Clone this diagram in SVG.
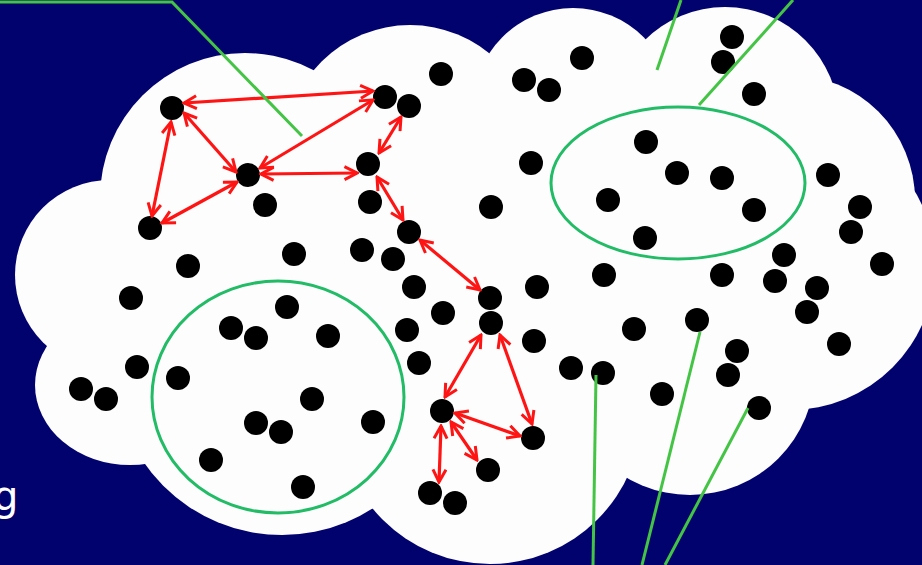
<svg xmlns="http://www.w3.org/2000/svg" width="922" height="565" viewBox="0 0 922 565">
<style>
.cl{fill:#fdfdfd}
.dot{fill:#000}
.arr{fill:none;stroke:#ff1414;stroke-width:3.2;marker-start:url(#ah);marker-end:url(#ah)}
.gl{fill:none;stroke:#44c444;stroke-width:3}
.ge{fill:none;stroke:#22bb66;stroke-width:3}
</style>
<defs>
<marker id="ah" viewBox="0 0 16 16" refX="14" refY="8" markerWidth="16" markerHeight="16" orient="auto-start-reverse" markerUnits="userSpaceOnUse">
<path d="M1.5,1.5 L14,8 L1.5,14.5" fill="none" stroke="#ff1414" stroke-width="3"/>
</marker>
</defs>
<rect width="922" height="565" fill="#02026f"/>
<g id="cloud">
<circle class="cl" cx="245" cy="198" r="145"/>
<circle class="cl" cx="410" cy="150" r="125"/>
<circle class="cl" cx="573" cy="108" r="100"/>
<circle class="cl" cx="725" cy="121" r="114"/>
<circle class="cl" cx="790" cy="200" r="125"/>
<polygon class="cl" points="245,198 410,150 573,108 725,121 790,200 790,265 690,370 490,410 282,367 130,385 110,275"/>
<circle class="cl" cx="110" cy="275" r="95"/>
<ellipse class="cl" cx="130" cy="385" rx="95" ry="80"/>
<circle class="cl" cx="282" cy="367" r="168"/>
<circle class="cl" cx="490" cy="412" r="152"/>
<circle class="cl" cx="690" cy="370" r="125"/>
<circle class="cl" cx="790" cy="265" r="145"/>
</g>
<text x="-7" y="510" font-family="DejaVu Sans, Verdana, sans-serif" font-size="40" fill="#ffffff">g</text>
<g id="regions">
<ellipse class="ge" cx="278" cy="397" rx="126" ry="116"/>
<ellipse class="ge" cx="678" cy="183" rx="127" ry="76"/>
</g>
<g id="nodes">
<g id="n1"><circle class="dot" cx="172" cy="108" r="12"/></g>
<g id="n2"><circle class="dot" cx="385" cy="97" r="12"/></g>
<g id="n3"><circle class="dot" cx="409" cy="106" r="12"/></g>
<g id="n4"><circle class="dot" cx="441" cy="74" r="12"/></g>
<g id="n5"><circle class="dot" cx="248" cy="175" r="12"/></g>
<g id="n6"><circle class="dot" cx="265" cy="205" r="12"/></g>
<g id="n7"><circle class="dot" cx="368" cy="164" r="12"/></g>
<g id="n8"><circle class="dot" cx="370" cy="202" r="12"/></g>
<g id="n9"><circle class="dot" cx="150" cy="228" r="12"/></g>
<g id="n10"><circle class="dot" cx="188" cy="266" r="12"/></g>
<g id="n11"><circle class="dot" cx="294" cy="254" r="12"/></g>
<g id="n12"><circle class="dot" cx="362" cy="250" r="12"/></g>
<g id="n13"><circle class="dot" cx="393" cy="259" r="12"/></g>
<g id="n14"><circle class="dot" cx="409" cy="232" r="12"/></g>
<g id="n15"><circle class="dot" cx="131" cy="298" r="12"/></g>
<g id="n16"><circle class="dot" cx="414" cy="287" r="12"/></g>
<g id="n17"><circle class="dot" cx="443" cy="313" r="12"/></g>
<g id="n18"><circle class="dot" cx="490" cy="298" r="12"/></g>
<g id="n19"><circle class="dot" cx="491" cy="323" r="12"/></g>
<g id="n20"><circle class="dot" cx="407" cy="330" r="12"/></g>
<g id="n21"><circle class="dot" cx="419" cy="363" r="12"/></g>
<g id="n22"><circle class="dot" cx="491" cy="207" r="12"/></g>
<g id="n23"><circle class="dot" cx="531" cy="163" r="12"/></g>
<g id="n24"><circle class="dot" cx="524" cy="80" r="12"/></g>
<g id="n25"><circle class="dot" cx="549" cy="90" r="12"/></g>
<g id="n26"><circle class="dot" cx="582" cy="58" r="12"/></g>
<g id="n27"><circle class="dot" cx="732" cy="37" r="12"/></g>
<g id="n28"><circle class="dot" cx="723" cy="62" r="12"/></g>
<g id="n29"><circle class="dot" cx="754" cy="94" r="12"/></g>
<g id="n30"><circle class="dot" cx="646" cy="142" r="12"/></g>
<g id="n31"><circle class="dot" cx="677" cy="173" r="12"/></g>
<g id="n32"><circle class="dot" cx="722" cy="178" r="12"/></g>
<g id="n33"><circle class="dot" cx="608" cy="200" r="12"/></g>
<g id="n34"><circle class="dot" cx="754" cy="210" r="12"/></g>
<g id="n35"><circle class="dot" cx="645" cy="238" r="12"/></g>
<g id="n36"><circle class="dot" cx="828" cy="175" r="12"/></g>
<g id="n37"><circle class="dot" cx="860" cy="207" r="12"/></g>
<g id="n38"><circle class="dot" cx="851" cy="232" r="12"/></g>
<g id="n39"><circle class="dot" cx="784" cy="255" r="12"/></g>
<g id="n40"><circle class="dot" cx="882" cy="264" r="12"/></g>
<g id="n41"><circle class="dot" cx="722" cy="275" r="12"/></g>
<g id="n42"><circle class="dot" cx="775" cy="281" r="12"/></g>
<g id="n43"><circle class="dot" cx="817" cy="288" r="12"/></g>
<g id="n44"><circle class="dot" cx="807" cy="312" r="12"/></g>
<g id="n45"><circle class="dot" cx="839" cy="344" r="12"/></g>
<g id="n46"><circle class="dot" cx="604" cy="275" r="12"/></g>
<g id="n47"><circle class="dot" cx="537" cy="287" r="12"/></g>
<g id="n48"><circle class="dot" cx="534" cy="341" r="12"/></g>
<g id="n49"><circle class="dot" cx="634" cy="329" r="12"/></g>
<g id="n50"><circle class="dot" cx="697" cy="320" r="12"/></g>
<g id="n51"><circle class="dot" cx="737" cy="351" r="12"/></g>
<g id="n52"><circle class="dot" cx="728" cy="375" r="12"/></g>
<g id="n53"><circle class="dot" cx="571" cy="368" r="12"/></g>
<g id="n54"><circle class="dot" cx="603" cy="373" r="12"/></g>
<g id="n55"><circle class="dot" cx="662" cy="394" r="12"/></g>
<g id="n56"><circle class="dot" cx="759" cy="408" r="12"/></g>
<g id="n57"><circle class="dot" cx="231" cy="328" r="12"/></g>
<g id="n58"><circle class="dot" cx="256" cy="338" r="12"/></g>
<g id="n59"><circle class="dot" cx="287" cy="307" r="12"/></g>
<g id="n60"><circle class="dot" cx="328" cy="336" r="12"/></g>
<g id="n61"><circle class="dot" cx="137" cy="367" r="12"/></g>
<g id="n62"><circle class="dot" cx="178" cy="378" r="12"/></g>
<g id="n63"><circle class="dot" cx="81" cy="389" r="12"/></g>
<g id="n64"><circle class="dot" cx="106" cy="399" r="12"/></g>
<g id="n65"><circle class="dot" cx="312" cy="399" r="12"/></g>
<g id="n66"><circle class="dot" cx="256" cy="423" r="12"/></g>
<g id="n67"><circle class="dot" cx="281" cy="432" r="12"/></g>
<g id="n68"><circle class="dot" cx="373" cy="422" r="12"/></g>
<g id="n69"><circle class="dot" cx="211" cy="460" r="12"/></g>
<g id="n70"><circle class="dot" cx="303" cy="487" r="12"/></g>
<g id="n71"><circle class="dot" cx="442" cy="411" r="12"/></g>
<g id="n72"><circle class="dot" cx="533" cy="438" r="12"/></g>
<g id="n73"><circle class="dot" cx="488" cy="470" r="12"/></g>
<g id="n74"><circle class="dot" cx="430" cy="493" r="12"/></g>
<g id="n75"><circle class="dot" cx="455" cy="503" r="12"/></g>
</g>
<g id="connectors">
<line class="arr" x1="184" y1="103" x2="373" y2="91"/>
<line class="arr" x1="184" y1="113" x2="236" y2="172"/>
<line class="arr" x1="171" y1="122" x2="152" y2="216"/>
<line class="arr" x1="162" y1="223" x2="237" y2="182"/>
<line class="arr" x1="260" y1="168" x2="373" y2="100"/>
<line class="arr" x1="261" y1="174" x2="357" y2="173"/>
<line class="arr" x1="379" y1="153" x2="401" y2="117"/>
<line class="arr" x1="377" y1="177" x2="403" y2="220"/>
<line class="arr" x1="420" y1="240" x2="480" y2="290"/>
<line class="arr" x1="481" y1="335" x2="445" y2="397"/>
<line class="arr" x1="500" y1="335" x2="532" y2="424"/>
<line class="arr" x1="455" y1="413" x2="520" y2="436"/>
<line class="arr" x1="451" y1="422" x2="477" y2="460"/>
<line class="arr" x1="441" y1="426" x2="439" y2="482"/>
<polyline class="gl" points="0,2 172,2 302,136"/>
<line class="gl" x1="681" y1="0" x2="657" y2="70"/>
<line class="gl" x1="793" y1="0" x2="699" y2="105"/>
<line class="gl" x1="596" y1="375" x2="593" y2="565"/>
<line class="gl" x1="700" y1="332" x2="642" y2="565"/>
<line class="gl" x1="748" y1="408" x2="665" y2="565"/>
</g>
</svg>
